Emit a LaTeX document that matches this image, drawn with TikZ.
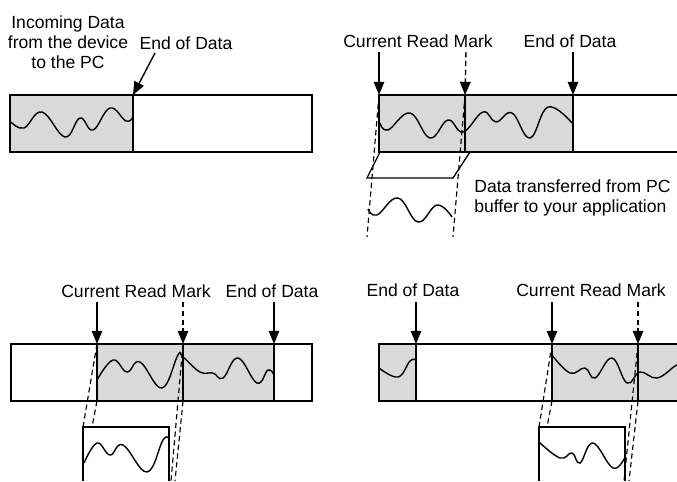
\documentclass[tikz,border=0pt]{standalone}
\usepackage{fontspec}
\setmainfont{Liberation Sans}
\usetikzlibrary{arrows.meta}
\tikzset{
  buffer/.style = {
    draw=black,
    line width=0.75pt
  },
  filled/.style = {
    fill=black!15
  },
  signal/.style = {
    line width=0.8pt,
    smooth,
    tension=0.7
  },
  pointer/.style = {
    line width=0.8pt,
    -{Triangle[width=6pt,length=7.5pt]}
  },
  ghostpointer/.style = {
    pointer,
    dash pattern=on 3pt off 2pt
  },
  projection/.style = {
    line width=0.65pt,
    dash pattern=on 3pt off 2pt
  },
  note/.style = {
    font=\fontsize{10}{11.4}\selectfont,
    inner sep=0pt,
    align=center
  }
}
\begin{document}
\begin{tikzpicture}[x=0.02cm,y=-0.02cm]
\useasboundingbox (0,0) rectangle (677,481);

% Panel 1: incoming data
\fill[filled] (10,95) rectangle (133,152);
\draw[buffer] (10,95) rectangle (312,152);
\draw[buffer] (133,95) -- (133,152);
\draw[signal] plot coordinates {(11,122) (24,128) (42,112) (65,137) (80,118) (93,130) (110,108) (126,121) (133,117)};
\node[note] (incoming) at (68,42) {Incoming Data\\from the device\\to the PC};
\node[note] (eod_a) at (186,43) {End of Data};
\coordinate (eod_a_tail) at (155,53);
\coordinate (eod_a_pos) at (133,95);
\draw[pointer] (eod_a_tail) -- (eod_a_pos);

% Panel 2: read into the application
\fill[filled] (379,95) rectangle (573,152);
\draw[buffer] (677,95) -- (379,95) -- (379,152) -- (677,152);
\draw[buffer] (465,95) -- (465,152);
\draw[buffer] (573,95) -- (573,152);
\draw[signal] plot coordinates {(380,123) (388,130) (410,113) (430,138) (448,120) (463,132) (483,112) (496,122) (512,113) (530,138) (548,107) (572,123)};
\draw[buffer] (380,152) -- (470,152) -- (453,178) -- (367,178) -- cycle;
\coordinate (crm_b_pos) at (379,95);
\coordinate (crm_b_next) at (465,95);
\coordinate (eod_b_pos) at (573,95);
\coordinate (crm_b_foot) at (367,237);
\coordinate (crm_b_nextfoot) at (453,237);
\draw[projection] (crm_b_pos) -- (crm_b_foot);
\draw[projection] (crm_b_next) -- (crm_b_nextfoot);
\draw[signal] plot coordinates {(368,209) (377,215) (398,198) (418,222) (437,205) (452,217)};
\node[note] (crm_b) at (418,41) {Current Read Mark};
\node[note] (eod_b) at (570,41) {End of Data};
\node[note, anchor=west, align=left] (transfer) at (474,198) {Data transferred from PC\\buffer to your application};
\draw[pointer] (crm_b_pos |- 0,52) -- (crm_b_pos);
\draw[ghostpointer] (466,52) -- (crm_b_next);
\draw[pointer] (eod_b_pos |- 0,52) -- (eod_b_pos);

% Panel 3: read mark behind end of data
\fill[filled] (97,344) rectangle (274,401);
\draw[buffer] (11,344) rectangle (312,401);
\draw[buffer] (97,344) -- (97,401);
\draw[buffer] (183,344) -- (183,401);
\draw[buffer] (274,344) -- (274,401);
\draw[signal] plot coordinates {(97,380) (113,360) (127,372) (140,362) (162,388) (178,355) (183,357) (200,372) (213,373) (223,378) (238,358) (257,383) (268,370) (274,375)};
\coordinate (crm_c_pos) at (97,344);
\coordinate (crm_c_next) at (183,344);
\coordinate (eod_c_pos) at (274,344);
\draw[projection] (crm_c_pos) -- (83,427);
\draw[projection] (97,401) -- (92,427);
\draw[projection] (crm_c_next) -- (171,481);
\draw[projection] (183,401) -- (175,481);
\draw[buffer] (83,481) -- (83,427) -- (169,427) -- (169,481);
\draw[signal] plot coordinates {(84,463) (97,443) (110,455) (123,445) (147,472) (163,440) (169,439)};
\node[note] (crm_c) at (136,291) {Current Read Mark};
\node[note] (eod_c) at (272,291) {End of Data};
\draw[pointer] (crm_c_pos |- 0,302) -- (crm_c_pos);
\draw[ghostpointer] (crm_c_next |- 0,302) -- (crm_c_next);
\draw[pointer] (eod_c_pos |- 0,302) -- (eod_c_pos);

% Panel 4: end of data wrapped around
\fill[filled] (379,344) rectangle (416,401);
\fill[filled] (552,344) rectangle (677,401);
\draw[buffer] (677,344) -- (379,344) -- (379,401) -- (677,401);
\draw[buffer] (416,344) -- (416,401);
\draw[buffer] (552,344) -- (552,401);
\draw[buffer] (638,344) -- (638,401);
\draw[signal] plot coordinates {(379,368) (398,377) (410,361) (416,360)};
\draw[signal] plot coordinates {(552,355) (570,373) (585,368) (595,378) (612,358) (627,383) (640,372) (657,378) (675,366) (677,366)};
\coordinate (eod_d_pos) at (416,344);
\coordinate (crm_d_pos) at (552,344);
\coordinate (crm_d_next) at (638,344);
\draw[projection] (crm_d_pos) -- (539,427);
\draw[projection] (552,401) -- (547,427);
\draw[projection] (crm_d_next) -- (624,481);
\draw[projection] (638,401) -- (629,481);
\draw[buffer] (539,481) -- (539,427) -- (625,427) -- (625,481);
\draw[signal] plot coordinates {(539,442) (560,458) (572,453) (580,463) (593,443) (613,468) (625,457)};
\node[note] (eod_d) at (413,290) {End of Data};
\node[note] (crm_d) at (591,290) {Current Read Mark};
\draw[pointer] (eod_d_pos |- 0,302) -- (eod_d_pos);
\draw[pointer] (crm_d_pos |- 0,302) -- (crm_d_pos);
\draw[ghostpointer] (crm_d_next |- 0,302) -- (crm_d_next);

\end{tikzpicture}
\end{document}
